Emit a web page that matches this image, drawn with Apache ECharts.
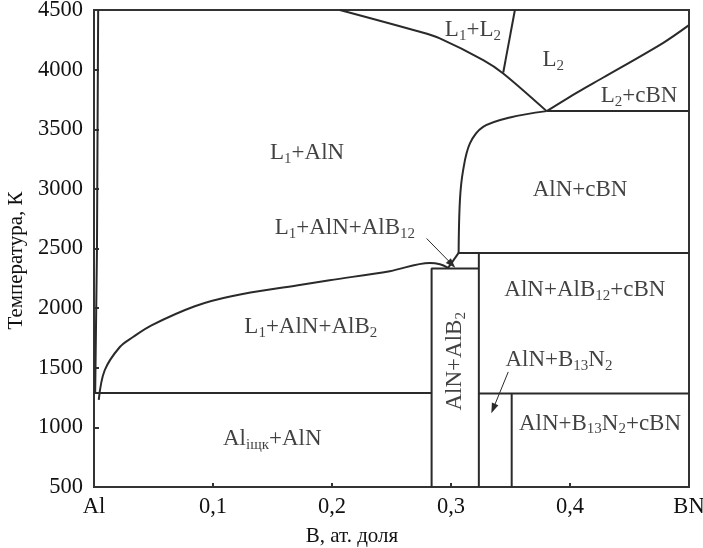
<!DOCTYPE html>
<html><head><meta charset="utf-8">
<script src="https://cdn.jsdelivr.net/npm/echarts@6/dist/echarts.min.js"></script>
<style>html,body{margin:0;padding:0;background:#fff}#c{width:703px;height:548px}</style>
</head><body><div id="c"></div>
<script>
// ---- data (B mole fraction, temperature K) ----
const xTickLabels = ['Al', '0,1', '0,2', '0,3', '0,4', 'BN'];
const yTickValues = [500, 1000, 1500, 2000, 2500, 3000, 3500, 4000, 4500];

const liquidusAl = [[0.001, 1290], [0.0025, 2500], [0.0035, 4500]];
const boundaryL1AlB2 = [[0.004, 1230], [0.009, 1479], [0.0217, 1674], [0.0328, 1758], [0.0483, 1856],
  [0.0847, 2016], [0.1155, 2100], [0.1715, 2192], [0.198, 2234], [0.2486, 2310], [0.2822, 2379],
  [0.2907, 2368], [0.2976, 2337]];
const boundaryAlB12 = [[0.2976, 2337], [0.3064, 2463]];
const boundaryAlNcBN = [[0.3064, 2463], [0.3075, 2905], [0.3102, 3157], [0.3159, 3381], [0.327, 3520],
  [0.3495, 3599], [0.3804, 3652]];
const boundaryL1L2 = [[0.2066, 4500], [0.2738, 4317], [0.2906, 4262], [0.3271, 4080], [0.3439, 3968], [0.3804, 3652]];
const boundaryL1L2vert = [[0.3537, 4500], [0.3439, 3975]];
const boundaryL2cBN = [[0.3804, 3652], [0.4069, 3814], [0.428, 3934], [0.4784, 4225], [0.5, 4373]];
const eutectic3650 = [[0.3804, 3652], [0.5, 3652]];
const eutectic2463 = [[0.3064, 2463], [0.5, 2463]];
const boxAlB2Left = [[0.2837, 500], [0.2837, 2332], [0.3234, 2332]];
const boxAlB2Right = [[0.3234, 500], [0.3234, 2463]];
const solidus1290Left = [[0, 1288], [0.2837, 1288]];
const solidus1290Right = [[0.3234, 1285], [0.5, 1285]];
const vertB13N2 = [[0.351, 500], [0.351, 1285]];

const arrowAlB12 = [[0.2795, 2584], [0.3007, 2368]];
const arrowB13N2 = [[0.3481, 1465], [0.3355, 1158]];

const regionNames = ['{n|L}{s|1}{n|+AlN}', '{n|L}{s|1}{n|+L}{s|2}', '{n|L}{s|2}', '{n|L}{s|2}{n|+cBN}',
  '{n|AlN+cBN}', '{n|L}{s|1}{n|+AlN+AlB}{s|12}', '{n|AlN+AlB}{s|12}{n|+cBN}', '{n|L}{s|1}{n|+AlN+AlB}{s|2}',
  '{n|AlN+B}{s|13}{n|N}{s|2}', '{n|AlN+B}{s|13}{n|N}{s|2}{n|+cBN}', '{n|Al}{s|iщк}{n|+AlN}'];
const regionAnchors = [[0.1791, 3299], [0.3184, 4331], [0.386, 4080], [0.458, 3778], [0.4084, 2989],
  [0.2108, 2670], [0.4125, 2150], [0.1822, 1840], [0.3907, 1563], [0.4252, 1032], [0.1498, 906]];
const verticalName = '{n|AlN+AlB}{s|2}';
const verticalAnchor = [0.3035, 1554];

// ---- styles ----
const LC = '#2a2a2a';
const FONT = '"Liberation Serif", "DejaVu Serif", serif';
const rich = {
  n: { fontFamily: FONT, fontSize: 23, color: '#111', lineHeight: 27 },
  s: { fontFamily: FONT, fontSize: 15, color: '#111', lineHeight: 15, verticalAlign: 'bottom' }
};

function ln(data, smooth) {
  return { type: 'line', data: data, symbol: 'none', silent: true, animation: false,
    smooth: smooth || false, lineStyle: { color: LC, width: 2 }, z: 3 };
}

const series = [
  ln(liquidusAl), ln(boundaryL1AlB2, 0.35), ln(boundaryAlB12), ln(boundaryAlNcBN, 0.35),
  ln(boundaryL1L2, 0.3), ln(boundaryL1L2vert), ln(boundaryL2cBN, 0.3), ln(eutectic3650), ln(eutectic2463),
  ln(boxAlB2Left), ln(boxAlB2Right), ln(solidus1290Left), ln(solidus1290Right), ln(vertB13N2)
];

series.push({
  type: 'scatter', symbolSize: 0, silent: true, animation: false,
  data: regionAnchors.map((p, i) => ({ value: p, label: { formatter: regionNames[i] } })),
  label: { show: true, position: 'inside', rich: rich }
});
series.push({
  type: 'scatter', symbolSize: 0, silent: true, animation: false,
  data: [{ value: verticalAnchor }],
  label: { show: true, position: 'inside', rotate: 90, formatter: verticalName, rich: rich }
});
series.push({
  type: 'line', data: [], silent: true, animation: false,
  markLine: {
    silent: true, animation: false, symbol: ['none', 'triangle'], symbolSize: [7, 10],
    lineStyle: { color: LC, width: 1, type: 'solid' }, label: { show: false },
    data: [
      [{ coord: arrowAlB12[0] }, { coord: arrowAlB12[1] }],
      [{ coord: arrowB13N2[0] }, { coord: arrowB13N2[1] }]
    ]
  }
});

const chart = echarts.init(document.getElementById('c'), null, { renderer: 'canvas' });
chart.setOption({
  backgroundColor: '#fff',
  animation: false,
  grid: { left: 94, right: 14, top: 10, bottom: 61, outerBoundsMode: 'none', containLabel: false,
    show: true, borderColor: '#333', borderWidth: 2, backgroundColor: 'transparent' },
  xAxis: {
    type: 'value', min: 0, max: 0.5, interval: 0.1,
    name: 'B, ат. доля', nameLocation: 'middle', nameGap: 39,
    nameTextStyle: { fontFamily: FONT, fontSize: 21, color: '#111', padding: [0, 79, 0, 0] },
    axisLine: { show: true, lineStyle: { color: '#333', width: 2 } },
    axisTick: { show: true, inside: true, length: 4, lineStyle: { color: '#333', width: 2 } },
    axisLabel: { fontFamily: FONT, fontSize: 22.5, color: '#111', margin: 9,
      formatter: v => xTickLabels[Math.round(v * 10)] },
    splitLine: { show: false }
  },
  yAxis: {
    type: 'value', min: yTickValues[0], max: yTickValues[yTickValues.length - 1], interval: 500,
    name: 'Температура, К', nameLocation: 'middle', nameGap: 64, nameRotate: 90,
    nameTextStyle: { fontFamily: FONT, fontSize: 21, color: '#111', padding: [0, 24, 0, 0] },
    axisLine: { show: true, lineStyle: { color: '#333', width: 2 } },
    axisTick: { show: true, inside: true, length: 5, lineStyle: { color: '#333', width: 2 } },
    axisLabel: { fontFamily: FONT, fontSize: 22.5, color: '#111', margin: 11, formatter: v => String(v) },
    splitLine: { show: false }
  },
  series: series
});
</script></body></html>
